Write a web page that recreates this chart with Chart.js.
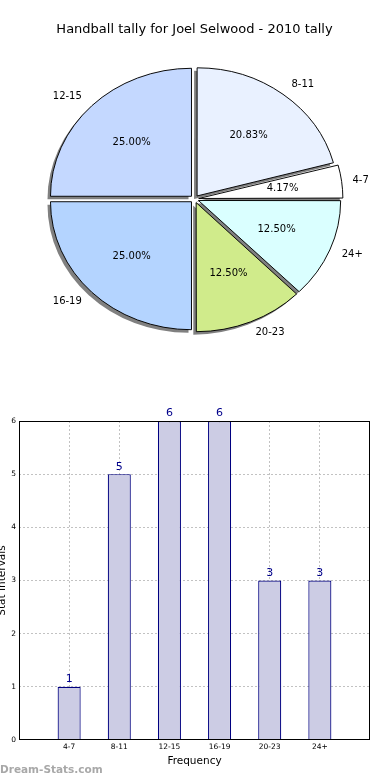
<!DOCTYPE html>
<html>
<head>
<meta charset="utf-8">
<script src="https://cdn.jsdelivr.net/npm/chart.js@4.4.1/dist/chart.umd.min.js"></script>
<style>
  html, body { margin: 0; padding: 0; background: #fff; }
  body { width: 390px; height: 780px; position: relative; overflow: hidden; }
  #pie { position: absolute; left: 0; top: 0; }
  #bar { position: absolute; left: 0; top: 390px; }
  #mark { position: absolute; left: 0; top: 763px; font: bold 10.5px 'DejaVu Sans', sans-serif; color: #a8a8a8; }
</style>
</head>
<body>
<canvas id="pie" width="390" height="390"></canvas>
<canvas id="bar" width="390" height="390"></canvas>
<div id="mark">Dream-Stats.com</div>
<script>
// Data
const categories = ['4-7', '8-11', '12-15', '16-19', '20-23', '24+'];
const counts = [1, 5, 6, 6, 3, 3];
const yTicks = [0, 1, 2, 3, 4, 5, 6];

// pie goes clockwise from the top in this order
const pieLabels = ['8-11', '4-7', '24+', '20-23', '16-19', '12-15'];
const pieValues = pieLabels.map(l => counts[categories.indexOf(l)]);
const pieColors = ['#e9f1ff', '#ffffff', '#daffff', '#d0eb8b', '#b4d4ff', '#c4d8ff'];

Chart.defaults.font.family = "'DejaVu Sans', sans-serif";
Chart.defaults.color = '#000';

const ELLIPSE = 128 / 141;

// squash the pie into an ellipse, add drop shadows and the labels
const pieShape = {
  id: 'pieShape',
  beforeDatasetsDraw(chart) {
    const arcs = chart.getDatasetMeta(0).data;
    const ctx = chart.ctx;
    const cx = arcs[0].x, cy = arcs[0].y;

    // shadows first
    ctx.save();
    ctx.translate(-3, 3);
    ctx.translate(cx, cy);
    ctx.scale(1, ELLIPSE);
    ctx.translate(-cx, -cy);
    arcs.forEach(arc => {
      const saved = arc.options;
      arc.options = Object.assign({}, saved, { backgroundColor: '#808080', borderWidth: 0 });
      arc.draw(ctx);
      arc.options = saved;
    });
    ctx.restore();

    ctx.save();
    ctx.translate(cx, cy);
    ctx.scale(1, ELLIPSE);
    ctx.translate(-cx, -cy);
  },
  afterDatasetsDraw(chart) {
    const ctx = chart.ctx;
    ctx.restore();

    const arcs = chart.getDatasetMeta(0).data;
    const total = pieValues.reduce((a, b) => a + b, 0);
    ctx.save();
    ctx.font = "10px 'DejaVu Sans'";
    ctx.fillStyle = '#000';
    ctx.textBaseline = 'middle';
    arcs.forEach((arc, i) => {
      const mid = (arc.startAngle + arc.endAngle) / 2;
      const r = arc.outerRadius;
      const ex = Math.cos(mid);
      const ey = Math.sin(mid) * ELLIPSE;
      ctx.textAlign = ex < 0 ? 'right' : 'left';
      ctx.fillText(pieLabels[i], arc.x + ex * r * 1.13, arc.y + ey * r * 1.13);
      ctx.textAlign = 'center';
      ctx.fillText((pieValues[i] / total * 100).toFixed(2) + '%', arc.x + ex * r * 0.63, arc.y + ey * r * 0.63);
    });
    ctx.restore();
  }
};

new Chart(document.getElementById('pie'), {
  type: 'pie',
  data: {
    labels: pieLabels,
    datasets: [{
      data: pieValues,
      backgroundColor: pieColors,
      borderColor: '#000',
      borderWidth: 1,
      offset: 17,
      radius: 141
    }]
  },
  options: {
    responsive: false,
    animation: false,
    events: [],
    layout: { padding: { left: 0, right: 1, top: 0, bottom: 29.6 } },
    plugins: {
      legend: { display: false },
      tooltip: { enabled: false },
      title: {
        display: true,
        text: 'Handball tally for Joel Selwood - 2010 tally',
        color: '#000',
        font: { size: 13, weight: 'normal' },
        padding: { top: 22, bottom: 0 }
      }
    }
  },
  plugins: [pieShape]
});

// bar chart: one empty slot at each end like the original axes
const barLabels = [''].concat(categories, ['']);
const barData = [null].concat(counts, [null]);

const hideEdges = c => (c.index === 0 || c.index === c.chart.scales[c.scale.id].ticks.length - 1) ? 'rgba(0,0,0,0)' : '#c2c2c2';

const frameAndValues = {
  id: 'frameAndValues',
  afterDraw(chart) {
    const { ctx, chartArea } = chart;
    ctx.save();
    ctx.strokeStyle = '#000';
    ctx.lineWidth = 1;
    ctx.strokeRect(Math.round(chartArea.left) + 0.5, Math.round(chartArea.top) + 0.5,
      Math.round(chartArea.width) - 1, Math.round(chartArea.height) - 1);

    ctx.font = "11px 'DejaVu Sans'";
    ctx.fillStyle = '#00008b';
    ctx.textAlign = 'center';
    ctx.textBaseline = 'bottom';
    chart.getDatasetMeta(0).data.forEach((bar, i) => {
      if (barData[i] == null) return;
      ctx.fillText(String(barData[i]), bar.x, bar.y - 2);
    });
    ctx.restore();
  }
};

new Chart(document.getElementById('bar'), {
  type: 'bar',
  data: {
    labels: barLabels,
    datasets: [{
      data: barData,
      backgroundColor: '#ccccE4',
      borderColor: '#000080',
      borderWidth: 1.2,
      barPercentage: 0.46,
      categoryPercentage: 1
    }]
  },
  options: {
    responsive: false,
    animation: false,
    events: [],
    layout: { padding: { top: 31, right: 20, left: 0, bottom: 0 } },
    plugins: { legend: { display: false }, tooltip: { enabled: false } },
    scales: {
      x: {
        offset: false,
        z: 1,
        grid: { color: hideEdges, drawTicks: false, lineWidth: 1, offset: false },
        border: { display: false, dash: [2, 2] },
        ticks: { font: { size: 7.5 }, color: '#000', padding: 3, maxRotation: 0, autoSkip: false },
        title: { display: true, text: 'Frequency', font: { size: 10.5 }, color: '#000', padding: { top: 0, bottom: 12 } },
        afterFit(scale) { scale.height = 40; }
      },
      y: {
        min: yTicks[0],
        max: yTicks[yTicks.length - 1],
        z: 1,
        afterBuildTicks(scale) { scale.ticks = yTicks.map(v => ({ value: v })); },
        grid: { color: hideEdges, drawTicks: false, lineWidth: 1 },
        border: { display: false, dash: [2, 2] },
        ticks: { font: { size: 7.5 }, color: '#000', padding: 3 },
        title: { display: true, text: 'Stat Intervals', font: { size: 10.5 }, color: '#000', padding: { top: -4, bottom: 0 } },
        afterFit(scale) { scale.width = 19; }
      }
    }
  },
  plugins: [frameAndValues]
});
</script>
</body>
</html>
